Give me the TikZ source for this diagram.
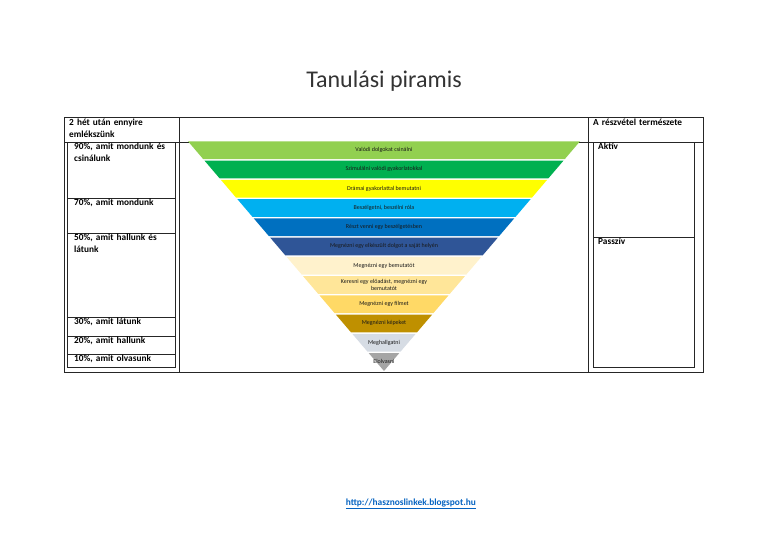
\documentclass[tikz,border=0pt]{standalone}
\usepackage{fontspec}
\setmainfont{Carlito}
\usetikzlibrary{positioning}

\definecolor{lvlA}{HTML}{92D050}
\definecolor{lvlB}{HTML}{00B050}
\definecolor{lvlC}{HTML}{FFFF00}
\definecolor{lvlD}{HTML}{00B0F0}
\definecolor{lvlE}{HTML}{0070C0}
\definecolor{lvlF}{HTML}{2F5597}
\definecolor{lvlG}{HTML}{FFF2CC}
\definecolor{lvlH}{HTML}{FFE699}
\definecolor{lvlI}{HTML}{FFD966}
\definecolor{lvlJ}{HTML}{BF9000}
\definecolor{lvlK}{HTML}{D6DCE4}
\definecolor{lvlL}{HTML}{A5A5A5}
\definecolor{linkblue}{HTML}{0563C1}

\begin{document}
\begin{tikzpicture}[
  x=1pt,y=-1pt,
  frame/.style={draw=black!85,line width=0.8pt},
  cell/.style={draw=black!85,line width=0.7pt,anchor=north west,inner sep=0pt,minimum width=108pt},
  sidecell/.style={draw=black!85,line width=0.7pt,anchor=north west,inner sep=0pt,minimum width=101pt},
  celltxt/.style={anchor=north west,font=\fontsize{9.3}{12}\selectfont\bfseries,text width=104pt,align=left,inner sep=1pt},
  band/.style={font=\fontsize{6}{7}\selectfont,text=black!90,align=center,inner sep=0pt}
]
  \useasboundingbox (0,0) rectangle (768,543);

  \node[anchor=base,font=\fontsize{24}{28}\selectfont,text=black!80] (title) at (384,87.7) {Tanulási piramis};

  % table frame
  \draw[frame] (64,117) rectangle (703,372);
  \draw[frame] (179,117) -- (179,372);
  \draw[frame] (588,117) -- (588,372);
  \draw[frame] (64,142) -- (703,142);

  \node[celltxt] (hleft) at (68,118) {2 hét után ennyire\\emlékszünk};
  \node[celltxt] (hright) at (592,118) {A részvétel természete};

  % left column
  \node[cell,minimum height=56pt] (c90) at (67,142) {};
  \node[cell,minimum height=35pt] (c70) at (67,198) {};
  \node[cell,minimum height=84pt] (c50) at (67,233) {};
  \node[cell,minimum height=19pt] (c30) at (67,317) {};
  \node[cell,minimum height=18pt] (c20) at (67,336) {};
  \node[cell,minimum height=13pt] (c10) at (67,354) {};
  \node[celltxt] (t90) at ([xshift=6pt]c90.north west) {90\%, amit mondunk és\\csinálunk};
  \node[celltxt] (t70) at ([xshift=6pt]c70.north west) {70\%, amit mondunk};
  \node[celltxt] (t50) at ([xshift=6pt]c50.north west) {50\%, amit hallunk és\\látunk};
  \node[celltxt] (t30) at ([xshift=6pt]c30.north west) {30\%, amit látunk};
  \node[celltxt] (t20) at ([xshift=6pt]c20.north west) {20\%, amit hallunk};
  \node[celltxt] (t10) at ([xshift=6pt]c10.north west) {10\%, amit olvasunk};

  % right column
  \node[sidecell,minimum height=95pt] (act) at (593,142) {};
  \node[sidecell,minimum height=130pt] (pas) at (593,237) {};
  \node[celltxt] (tact) at ([xshift=4pt]act.north west) {Aktív};
  \node[celltxt] (tpas) at ([xshift=4pt]pas.north west) {Passzív};

  % pyramid
  \foreach \col/\txt [count=\i from 0] in {
      lvlA/Valódi dolgokat csinálni,
      lvlB/Szimulálni valódi gyakorlatokkal,
      lvlC/Drámai gyakorlattal bemutatni,
      lvlD/{Beszélgetni, beszélni róla},
      lvlE/Részt venni egy beszélgetésben,
      lvlF/Megnézni egy elkészült dolgot a saját helyén,
      lvlG/Megnézni egy bemutatót,
      lvlH/{Keresni egy előadást, megnézni egy\\bemutatót},
      lvlI/Megnézni egy filmet,
      lvlJ/Megnézni képeket,
      lvlK/Meghallgatni,
      lvlL/Elolvasni} {
    \pgfmathsetmacro\ya{141.3+\i*19.25}
    \pgfmathsetmacro\yb{\ya+17.7}
    \pgfmathsetmacro\wa{0.8533*(371-\ya)}
    \pgfmathsetmacro\wb{max(0,0.8533*(371-\yb))}
    \fill[\col] (384-\wa,\ya) -- (384+\wa,\ya) -- (384+\wb,\yb) -- (384-\wb,\yb) -- cycle;
    \node[band] (b\i) at (384,{(\ya+\yb)/2}) {\txt};
  }

  \node[anchor=base,font=\fontsize{9.4}{11}\selectfont\bfseries,text=linkblue] (link) at (410.8,505.5) {\underline{http://hasznoslinkek.blogspot.hu}};
\end{tikzpicture}
\end{document}
